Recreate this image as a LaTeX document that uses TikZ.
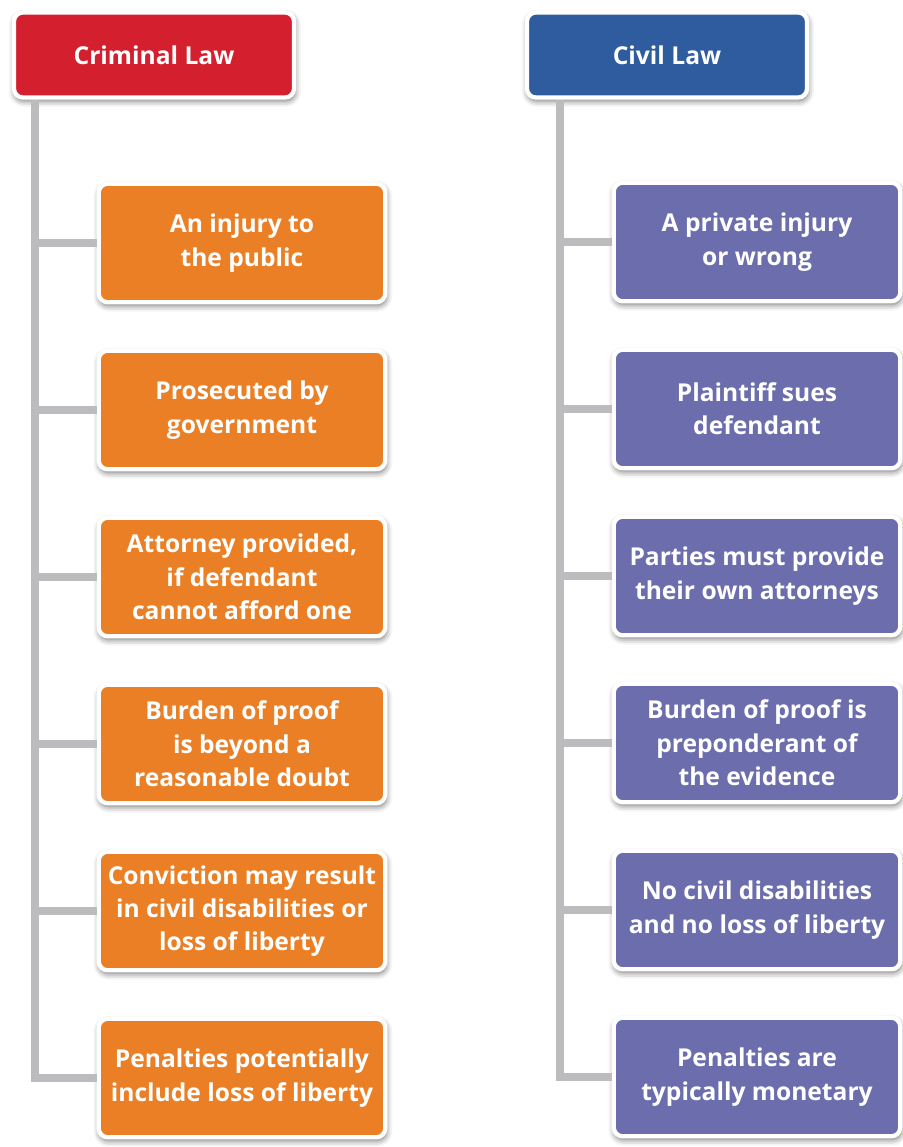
\documentclass[tikz,border=0pt]{standalone}
\usepackage{fontspec}
\setmainfont{Open Sans}
\usetikzlibrary{shadows.blur}

\definecolor{crimred}{HTML}{D4202E}
\definecolor{civblue}{HTML}{2F5C9E}
\definecolor{crimorange}{HTML}{EA7F25}
\definecolor{civpurple}{HTML}{6C6DAD}
\definecolor{linegray}{HTML}{BCBCBE}

\begin{document}
\begin{tikzpicture}[
  x=0.02cm, y=-0.02cm,
  card/.style={rectangle, rounded corners=5pt, draw=white, line width=2.4pt,
    text=white, align=center, font=\bfseries\fontsize{14}{19}\selectfont,
    minimum width=5.73cm, minimum height=2.37cm, inner xsep=2pt,
    blur shadow={shadow xshift=0.5pt, shadow yshift=-1.8pt,
      shadow blur radius=3.5pt, shadow opacity=60}},
  head/.style={card, minimum width=5.6cm, minimum height=1.7cm},
  crimhead/.style={head, fill=crimred},
  civhead/.style={head, fill=civblue},
  crimbox/.style={card, fill=crimorange},
  civbox/.style={card, fill=civpurple},
  spine/.style={draw=linegray, line width=4.5pt}
]
\useasboundingbox (0,0) rectangle (903,1147);

% Criminal law column
\node[crimhead] (crim) at (154,55) {Criminal Law};
\foreach \t [count=\i] in {
    {An injury to\\the public},
    {Prosecuted by\\government},
    {Attorney provided,\\if defendant\\cannot afford one},
    {Burden of proof\\is beyond a\\reasonable doubt},
    {Conviction may result\\in civil disabilities or\\loss of liberty},
    {Penalties potentially\\include loss of liberty}}
  \node[crimbox] (c\i) at (242,{243+167*(\i-1)}) {\t};

% Civil law column
\node[civhead] (civ) at (667,55) {Civil Law};
\foreach \t [count=\i] in {
    {A private injury\\or wrong},
    {Plaintiff sues\\defendant},
    {Parties must provide\\their own attorneys},
    {Burden of proof is\\preponderant of\\the evidence},
    {No civil disabilities\\and no loss of liberty},
    {Penalties are\\typically monetary}}
  \node[civbox] (v\i) at (757,{242+167*(\i-1)}) {\t};

% Connectors
\coordinate (cspine) at (35,0);
\coordinate (vspine) at (560,0);
\draw[spine] (cspine |- crim.south) |- (c6.west);
\draw[spine] (vspine |- civ.south) |- (v6.west);
\foreach \i in {1,...,5} {
  \draw[spine] (cspine |- c\i.west) -- (c\i.west);
  \draw[spine] (vspine |- v\i.west) -- (v\i.west);
}

\end{tikzpicture}
\end{document}
